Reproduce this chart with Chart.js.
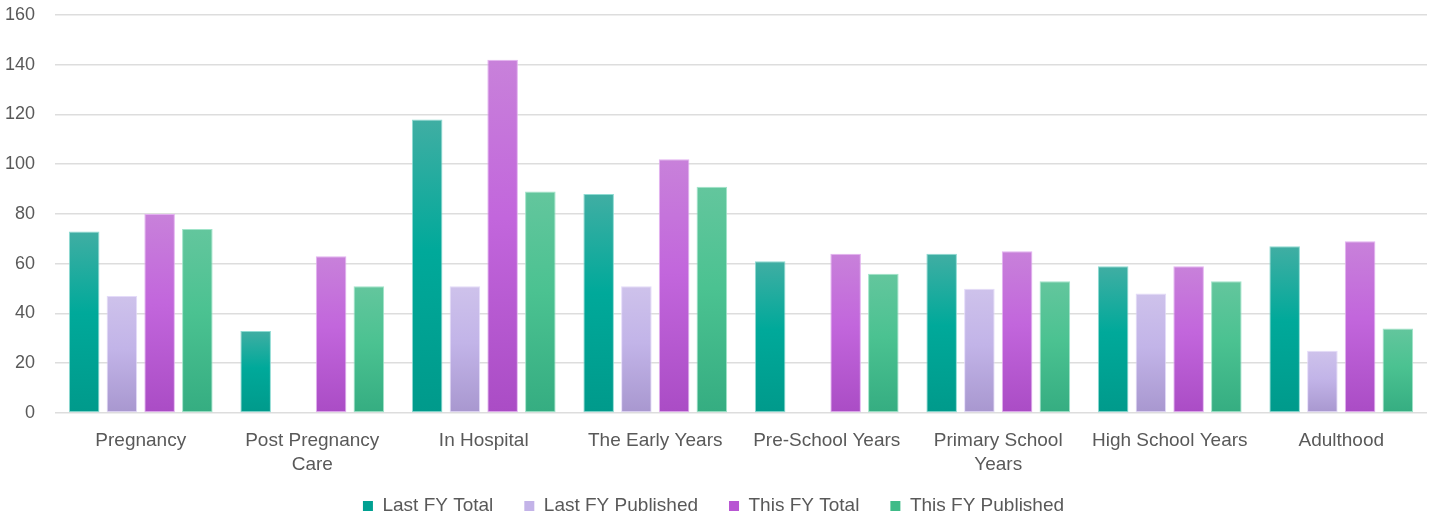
<!DOCTYPE html>
<html>
<head>
<meta charset="utf-8">
<script src="https://cdn.jsdelivr.net/npm/chart.js@4.4.1/dist/chart.umd.min.js"></script>
<style>
  html, body { margin: 0; padding: 0; background: #ffffff; }
  #wrap { width: 1430px; height: 517px; position: relative; }
</style>
</head>
<body>
<div id="wrap"><canvas id="c"></canvas></div>
<script>
const categories = [
  'Pregnancy',
  ['Post Pregnancy', 'Care'],
  'In Hospital',
  'The Early Years',
  'Pre-School Years',
  ['Primary School', 'Years'],
  'High School Years',
  'Adulthood'
];
const seriesNames = ['Last FY Total', 'Last FY Published', 'This FY Total', 'This FY Published'];
const lastFYTotal      = [73, 33, 118, 88, 61, 64, 59, 67];
const lastFYPublished  = [47, 0, 51, 51, 0, 50, 48, 25];
const thisFYTotal      = [80, 63, 142, 102, 64, 65, 59, 69];
const thisFYPublished  = [74, 51, 89, 91, 56, 53, 53, 34];
const yTicks = [0, 20, 40, 60, 80, 100, 120, 140, 160];

const palettes = [
  { top: '#40aea3', mid: '#00a99a', bot: '#009a8b', legend: '#00a091', border: 'rgba(130,215,205,0.9)' },
  { top: '#cec2eb', mid: '#c2b4e8', bot: '#a897cf', legend: '#c3b3e8', border: 'rgba(225,215,248,0.9)' },
  { top: '#c881da', mid: '#c266dc', bot: '#aa4cc5', legend: '#b856d3', border: 'rgba(225,170,240,0.9)' },
  { top: '#63c69d', mid: '#4bc291', bot: '#35ad81', legend: '#3fbb88', border: 'rgba(150,225,195,0.9)' }
];

function gradientFor(idx) {
  return function(ctx) {
    const chart = ctx.chart;
    const p = palettes[idx];
    if (!chart.chartArea || ctx.type !== 'data') return p.legend;
    const y = chart.scales.y;
    const v = ctx.raw;
    const top = y.getPixelForValue(v);
    const base = y.getPixelForValue(0);
    if (!isFinite(top) || Math.abs(base - top) < 1) return p.mid;
    const g = chart.ctx.createLinearGradient(0, top, 0, base);
    g.addColorStop(0, p.top);
    g.addColorStop(0.45, p.mid);
    g.addColorStop(1, p.bot);
    return g;
  };
}

const allSeries = [lastFYTotal, lastFYPublished, thisFYTotal, thisFYPublished];
const datasets = allSeries.map((vals, i) => ({
  label: seriesNames[i],
  data: vals,
  backgroundColor: gradientFor(i),
  borderColor: palettes[i].border,
  borderWidth: 1,
  borderSkipped: false,
  categoryPercentage: 0.88,
  barPercentage: 0.81
}));

const FONT = '"Liberation Sans", Arial, sans-serif';

// shift the legend up a little so it sits where the reference has it
const legendShift = {
  id: 'legendShift',
  afterLayout(chart) {
    const lg = chart.legend;
    if (lg) { lg.top -= 13.5; lg.bottom -= 13.5; }
  }
};

new Chart(document.getElementById('c'), {
  type: 'bar',
  data: { labels: categories, datasets },
  plugins: [legendShift],
  options: {
    responsive: true,
    maintainAspectRatio: false,
    animation: false,
    layout: { padding: { top: 0, right: 3, left: 0, bottom: -22 } },
    plugins: {
      tooltip: { enabled: false },
      legend: {
        position: 'bottom',
        labels: {
          color: '#595959',
          font: { family: FONT, size: 19 },
          boxWidth: 10,
          boxHeight: 10,
          padding: 31,
          generateLabels: (chart) => chart.data.datasets.map((d, i) => ({
            text: d.label,
            fillStyle: palettes[i].legend,
            strokeStyle: palettes[i].legend,
            lineWidth: 0,
            hidden: false,
            datasetIndex: i,
            fontColor: '#595959'
          }))
        }
      }
    },
    scales: {
      x: {
        grid: { display: false, drawTicks: false },
        border: { display: false },
        afterFit: (scale) => { scale.height = 66; },
        ticks: {
          color: '#595959',
          font: { family: FONT, size: 19, lineHeight: 1.3 },
          padding: 15,
          maxRotation: 0,
          autoSkip: false
        }
      },
      y: {
        min: 0,
        max: 160,
        afterBuildTicks: (scale) => { scale.ticks = yTicks.map(v => ({ value: v })); },
        afterFit: (scale) => { scale.width = 55; scale.paddingTop = 15; scale.paddingBottom = 0; },
        grid: { color: '#dddddd', lineWidth: 1.6, drawTicks: false },
        border: { display: false },
        ticks: {
          color: '#595959',
          font: { family: FONT, size: 18 },
          padding: 20
        }
      }
    }
  }
});
</script>
</body>
</html>
